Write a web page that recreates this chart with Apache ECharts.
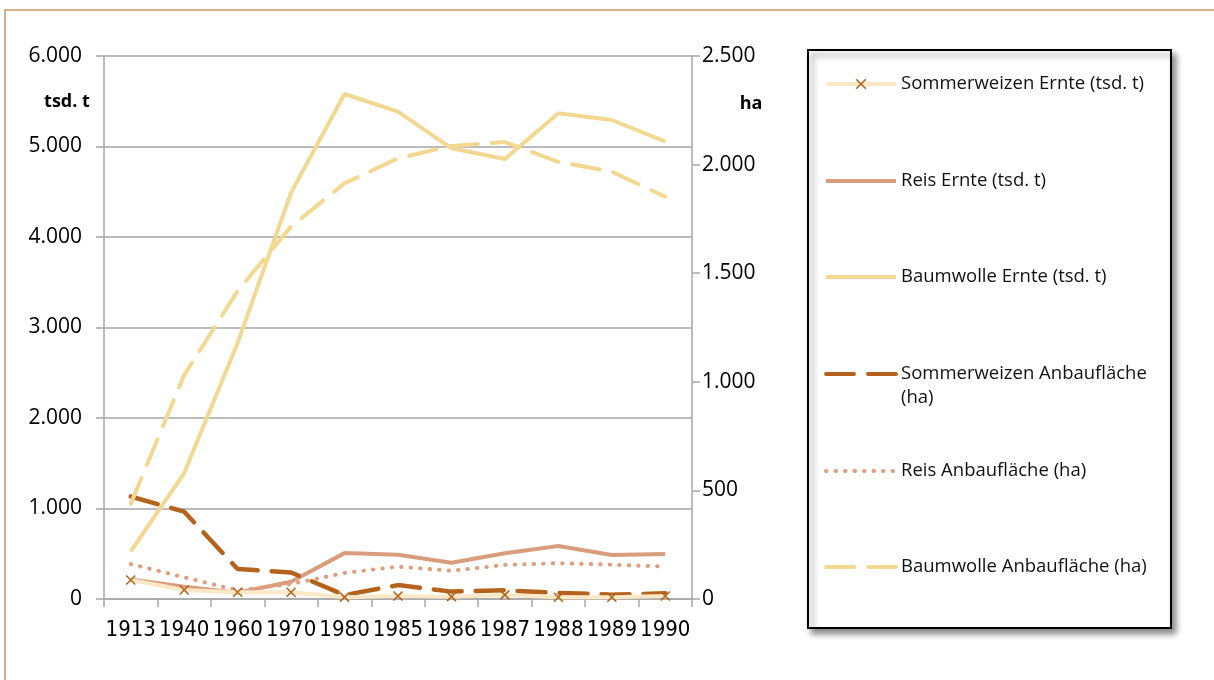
<!DOCTYPE html>
<html>
<head>
<meta charset="utf-8">
<script src="https://cdn.jsdelivr.net/npm/echarts@6/dist/echarts.min.js"></script>
<style>
html,body{margin:0;padding:0;background:#fff;}
#chart{width:1214px;height:680px;}
</style>
</head>
<body>
<div id="chart"></div>
<script>
// ---- data ----
var categories = ['1913','1940','1960','1970','1980','1985','1986','1987','1988','1989','1990'];
var sommerweizenErnte = [210, 100, 75, 75, 20, 33, 26, 45, 19, 19, 33];
var reisErnte = [215, 136, 70, 191, 507, 488, 401, 505, 586, 486, 497];
var baumwolleErnte = [525, 1392, 2830, 4490, 5580, 5385, 4980, 4862, 5367, 5293, 5053];
var sommerweizenAnbau = [472, 402, 138, 122, 18, 64, 34, 40, 28, 20, 26];
var reisAnbau = [161, 100, 40, 69, 120, 149, 130, 157, 165, 158, 149];
var baumwolleAnbau = [438, 1031, 1418, 1715, 1914, 2029, 2086, 2104, 2013, 1967, 1852];
var seriesNames = [
  'Sommerweizen Ernte (tsd. t)',
  'Reis Ernte (tsd. t)',
  'Baumwolle Ernte (tsd. t)',
  'Sommerweizen Anbaufläche (ha)',
  'Reis Anbaufläche (ha)',
  'Baumwolle Anbaufläche (ha)'
];
var leftAxisName = 'tsd. t';
var rightAxisName = 'ha';

function fmt(v){ return String(v).replace(/\B(?=(\d{3})+(?!\d))/g, '.'); }

var FONT = '"Open Sans", "Noto Sans", sans-serif';
var chart = echarts.init(document.getElementById('chart'));

var legendCenters = [84, 181, 277, 374, 471, 567];
var LH = 24;
var legends = seriesNames.map(function(n, i){
  var two = (i === 3);
  var top = two ? legendCenters[i] - 1.5*LH : legendCenters[i] - LH/2;
  var l = {
    data: [n],
    left: 824,
    top: top,
    orient: 'vertical',
    itemWidth: 70,
    itemHeight: 12,
    itemGap: 0,
    padding: 0,
    selectedMode: false,
    textStyle: {
      fontFamily: FONT, fontSize: 18.5, color: '#111', lineHeight: LH
    },
    lineStyle: { width: 4 },
    itemStyle: i === 0 ? { color: '#B5651D', borderColor: '#B5651D', borderWidth: 1.6 } : { color: 'rgba(0,0,0,0)', borderWidth: 0 }
  };
  if (two) l.formatter = function(){ return ' \nSommerweizen Anbaufläche\n(ha)'; };
  return l;
});

var option = {
  backgroundColor: '#fff',
  animation: false,
  textStyle: { fontFamily: FONT },
  grid: { left: 104, right: 522, top: 56, bottom: 81, containLabel: false },
  legend: legends,
  graphic: [
    { type: 'rect', z: -10, shape: { x: 5, y: 10, width: 1400, height: 900 },
      style: { fill: 'none', stroke: '#C9966B', lineWidth: 1.5 } },
    { type: 'rect', z: 1, shape: { x: 808, y: 50, width: 363, height: 578 },
      style: { fill: '#fff', stroke: '#000', lineWidth: 2,
        shadowBlur: 6, shadowOffsetX: 4, shadowOffsetY: 5, shadowColor: 'rgba(0,0,0,0.45)' } },
    { type: 'text', z: 5, style: { text: leftAxisName, x: 67, y: 102, align: 'center', verticalAlign: 'middle',
      font: 'bold 18px ' + FONT, fill: '#000' } },
    { type: 'text', z: 5, style: { text: rightAxisName, x: 751, y: 104, align: 'center', verticalAlign: 'middle',
      font: 'bold 18px ' + FONT, fill: '#000' } }
  ],
  xAxis: {
    type: 'category',
    data: categories,
    boundaryGap: true,
    axisLine: { lineStyle: { color: '#A6A6A6', width: 1.5 } },
    axisTick: { show: true, alignWithLabel: false, length: 8, lineStyle: { color: '#A6A6A6', width: 1.5 } },
    axisLabel: { margin: 20, color: '#000', fontSize: 22, interval: 0,
      fontFamily: '"Liberation Sans Narrow", "DejaVu Sans Condensed", sans-serif' },
    splitLine: { show: false }
  },
  yAxis: [
    {
      type: 'value', min: 0, max: 6000, interval: 1000, position: 'left',
      axisLine: { show: true, lineStyle: { color: '#A6A6A6', width: 1.5 } },
      axisTick: { show: true, length: 8, lineStyle: { color: '#A6A6A6', width: 1.5 } },
      axisLabel: { margin: 22, color: '#000', fontSize: 21, formatter: fmt },
      splitLine: { show: true, lineStyle: { color: '#A6A6A6', width: 1.5 } }
    },
    {
      type: 'value', min: 0, max: 2500, interval: 500, position: 'right',
      axisLine: { show: true, lineStyle: { color: '#A6A6A6', width: 1.5 } },
      axisTick: { show: true, length: 8, lineStyle: { color: '#A6A6A6', width: 1.5 } },
      axisLabel: { margin: 10, color: '#000', fontSize: 21, formatter: fmt },
      splitLine: { show: false }
    }
  ],
  series: [
    {
      name: seriesNames[0], type: 'line', yAxisIndex: 0, data: sommerweizenErnte,
      symbol: 'path://M0,0L10,10M10,0L0,10', symbolSize: 9, showSymbol: true,
      lineStyle: { color: '#FBE8C6', width: 4 },
      itemStyle: { color: '#B5651D', borderColor: '#B5651D', borderWidth: 1.6 },
      z: 3
    },
    {
      name: seriesNames[1], type: 'line', yAxisIndex: 0, data: reisErnte,
      symbol: 'none', lineStyle: { color: '#D99D7D', width: 4 }, itemStyle: { color: '#D99D7D' }, z: 2
    },
    {
      name: seriesNames[2], type: 'line', yAxisIndex: 0, data: baumwolleErnte,
      symbol: 'none', lineStyle: { color: '#F2D891', width: 4 }, itemStyle: { color: '#F2D891' }, z: 2
    },
    {
      name: seriesNames[3], type: 'line', yAxisIndex: 1, data: sommerweizenAnbau,
      symbol: 'none', lineStyle: { color: '#B5621C', width: 4.5, type: [28, 14], cap: 'round' },
      itemStyle: { color: '#B5621C' }, z: 2
    },
    {
      name: seriesNames[4], type: 'line', yAxisIndex: 1, data: reisAnbau,
      symbol: 'none', lineStyle: { color: '#DE9F7E', width: 4, type: [0.5, 9], cap: 'round' },
      itemStyle: { color: '#DE9F7E' }, z: 2
    },
    {
      name: seriesNames[5], type: 'line', yAxisIndex: 1, data: baumwolleAnbau,
      symbol: 'none', lineStyle: { color: '#F2D891', width: 4, type: [28, 14], cap: 'round' },
      itemStyle: { color: '#F2D891' }, z: 2
    }
  ]
};
chart.setOption(option);
</script>
</body>
</html>
